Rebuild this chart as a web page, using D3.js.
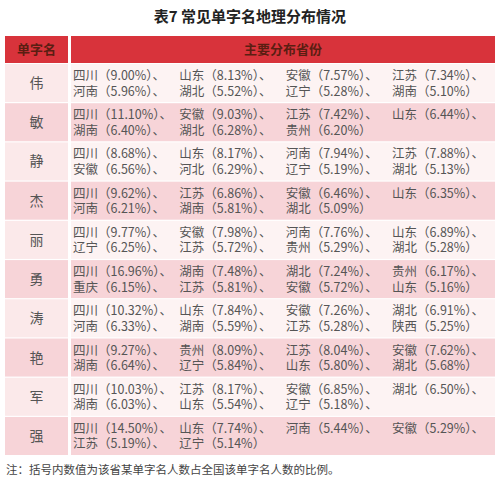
<!DOCTYPE html>
<html><head><meta charset="utf-8">
<script src="https://cdn.jsdelivr.net/npm/d3@7"></script>
<style>body{margin:0;background:#fff}</style>
</head><body><div id="chart"></div>
<script>
// table contents
const names = ['伟', '敏', '静', '杰', '丽', '勇', '涛', '艳', '军', '强'];
const provinces = [
  ['四川', '山东', '安徽', '江苏', '河南', '湖北', '辽宁', '湖南'],
  ['四川', '安徽', '江苏', '山东', '湖南', '湖北', '贵州'],
  ['四川', '山东', '河南', '江苏', '安徽', '河北', '辽宁', '湖北'],
  ['四川', '江苏', '安徽', '山东', '河南', '湖南', '湖北'],
  ['四川', '安徽', '河南', '山东', '辽宁', '江苏', '贵州', '湖北'],
  ['四川', '湖南', '湖北', '贵州', '重庆', '江苏', '安徽', '山东'],
  ['四川', '山东', '安徽', '湖北', '河南', '湖南', '江苏', '陕西'],
  ['四川', '贵州', '江苏', '安徽', '湖南', '辽宁', '山东', '湖北'],
  ['四川', '江苏', '安徽', '湖北', '湖南', '山东', '辽宁'],
  ['四川', '山东', '河南', '安徽', '江苏', '辽宁']
];
const shares = [
  ['9.00', '8.13', '7.57', '7.34', '5.96', '5.52', '5.28', '5.10'],
  ['11.10', '9.03', '7.42', '6.44', '6.40', '6.28', '6.20'],
  ['8.68', '8.17', '7.94', '7.88', '6.56', '6.29', '5.19', '5.13'],
  ['9.62', '6.86', '6.46', '6.35', '6.21', '5.81', '5.09'],
  ['9.77', '7.98', '7.76', '6.89', '6.25', '5.72', '5.29', '5.28'],
  ['16.96', '7.48', '7.24', '6.17', '6.15', '5.81', '5.72', '5.16'],
  ['10.32', '7.84', '7.26', '6.91', '6.33', '5.59', '5.28', '5.25'],
  ['9.27', '8.09', '8.04', '7.62', '6.64', '5.84', '5.80', '5.68'],
  ['10.03', '8.17', '6.85', '6.50', '6.03', '5.54', '5.18'],
  ['14.50', '7.74', '5.44', '5.29', '5.19', '5.14']
];
const trailingSep = [false, false, false, false, false, false, false, false, true, false];
const headers = ['单字名', '主要分布省份'];
const title = '表7  常见单字名地理分布情况';
const note = '注：括号内数值为该省某单字名人数占全国该单字名人数的比例。';

const W = 500, H = 483;
const font = '"Noto Sans CJK SC", "Liberation Serif", serif';
const svg = d3.select('#chart').append('svg').attr('width', W).attr('height', H)
  .style('font-family', font);

svg.append('text').attr('x', W / 2).attr('y', 22).attr('text-anchor', 'middle')
  .attr('font-size', 15).attr('font-weight', 'bold').attr('fill', '#222').text(title);

const x0 = 5, x1 = 68, x2 = 71, x3 = 495;
const headTop = 36, headH = 27;
const y = d3.scaleBand().domain(d3.range(names.length)).range([headTop + headH + 1, 455]).paddingInner(0.03);

// header
svg.append('rect').attr('x', x0).attr('y', headTop).attr('width', x1 - x0).attr('height', headH).attr('fill', '#d8333b');
svg.append('rect').attr('x', x2).attr('y', headTop).attr('width', x3 - x2).attr('height', headH).attr('fill', '#d8333b');
svg.append('text').attr('x', (x0 + x1) / 2).attr('y', headTop + 18).attr('text-anchor', 'middle')
  .attr('font-size', 13).attr('font-weight', 'bold').attr('fill', '#5a1e12').text(headers[0]);
svg.append('text').attr('x', (x2 + x3) / 2).attr('y', headTop + 18).attr('text-anchor', 'middle')
  .attr('font-size', 13).attr('font-weight', 'bold').attr('fill', '#5a1e12').text(headers[1]);

const colX = d3.scalePoint().domain([0, 1, 2, 3]).range([73, 392]);

const rows = svg.selectAll('g.row').data(names).join('g').attr('class', 'row')
  .attr('transform', (d, i) => `translate(0,${y(i)})`);

rows.append('rect').attr('x', x0).attr('width', x1 - x0).attr('height', y.bandwidth())
  .attr('fill', (d, i) => i % 2 ? '#f7d4d8' : '#fbe9ea');
rows.append('rect').attr('x', x2).attr('width', x3 - x2).attr('height', y.bandwidth())
  .attr('fill', (d, i) => i % 2 ? '#f7d4d8' : '#fdf3f3');
rows.append('text').attr('x', (x0 + x1) / 2).attr('y', y.bandwidth() / 2 + 5)
  .attr('text-anchor', 'middle').attr('font-size', 14).attr('fill', '#555').text(d => d);

rows.each(function (d, i) {
  const g = d3.select(this);
  const n = provinces[i].length;
  provinces[i].forEach((p, j) => {
    const sep = (j < n - 1 || trailingSep[i]) ? '、' : '';
    g.append('text')
      .attr('x', colX(j % 4))
      .attr('y', y.bandwidth() / 2 - 3 + Math.floor(j / 4) * 15.5)
      .attr('font-size', 12.5).attr('fill', '#555')
      .text(`${p}（${shares[i][j]}%）${sep}`);
  });
});

svg.append('text').attr('x', 6).attr('y', 474).attr('font-size', 11.5).attr('fill', '#444').text(note);
</script></body></html>
